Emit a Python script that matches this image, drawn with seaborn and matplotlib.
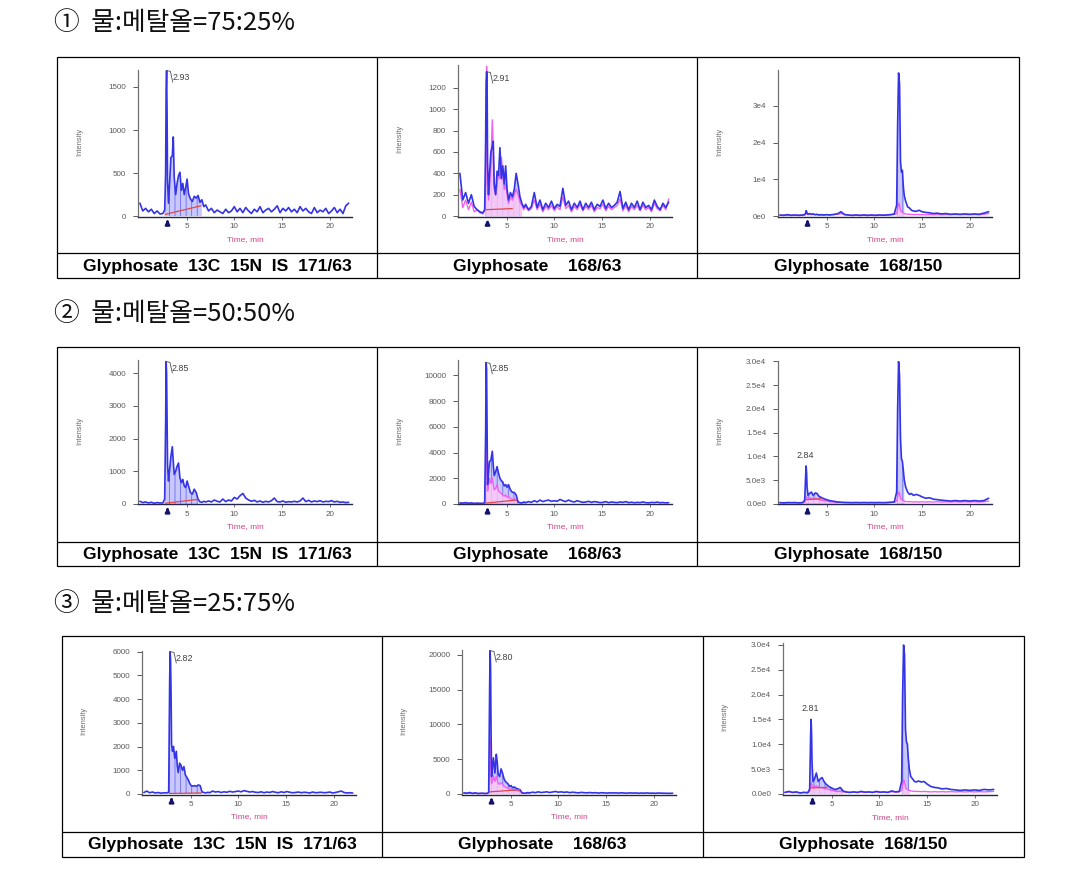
import matplotlib
matplotlib.use("Agg")
import matplotlib.pyplot as plt
import seaborn as sns
from matplotlib.patches import Rectangle

# ------------------------------------------------------------------ data
HEADERS = ["①  물:메탈올=75:25%", "②  물:메탈올=50:50%", "③  물:메탈올=25:75%"]
CAPTIONS = ["Glyphosate  13C  15N  IS  171/63", "Glyphosate    168/63", "Glyphosate  168/150"]
X_TICKS = [5, 10, 15, 20]

T_A = [0.1, 0.4, 0.7, 1.0, 1.3, 1.6, 1.9, 2.2, 2.5,
       2.7, 2.8, 2.85, 2.9, 2.95, 3.0,
       3.1, 3.2, 3.35, 3.5, 3.6, 3.7, 3.85, 4.0, 4.15, 4.3, 4.45, 4.6, 4.75, 4.9, 5.05, 5.2,
       5.4, 5.6, 5.8, 6.0, 6.2, 6.4, 6.6, 6.8, 7.0,
       7.3, 7.6, 7.9, 8.2, 8.5, 8.8, 9.1, 9.4, 9.7, 10.0,
       10.3, 10.6, 10.9, 11.2, 11.5, 11.8, 12.1, 12.4, 12.7, 13.0,
       13.3, 13.6, 13.9, 14.2, 14.5, 14.8, 15.1, 15.4, 15.7, 16.0,
       16.3, 16.6, 16.9, 17.2, 17.5, 17.8, 18.1, 18.4, 18.7, 19.0,
       19.3, 19.6, 19.9, 20.2, 20.5, 20.8, 21.1, 21.4, 21.7, 22.0]

T_B = [0.1, 0.5, 0.9, 1.3, 1.7, 2.1, 2.5,
       2.7, 2.8, 2.85, 2.9, 2.95, 3.05,
       3.2, 3.4, 3.6, 3.8, 4.0, 4.2, 4.4, 4.7, 5.0, 5.3, 5.6, 5.9, 6.2, 6.5,
       6.9, 7.3, 7.7, 8.1, 8.5, 8.9, 9.3, 9.7, 10.1, 10.5, 10.9, 11.3, 11.7, 12.1,
       12.35, 12.45, 12.55, 12.65, 12.75, 12.85, 12.95, 13.05, 13.15,
       13.3, 13.5, 13.7, 13.9, 14.1, 14.4, 14.7, 15.0, 15.4, 15.8, 16.2, 16.6, 17.0,
       17.5, 18.0, 18.5, 19.0, 19.5, 20.0, 20.5, 21.0, 21.5, 22.0]

# row 1 (75:25)
BLUE_11 = [150, 60, 90, 50, 80, 30, 60, 25, 30,
           70, 500, 1450, 1690, 1200, 400,
           150, 350, 680, 700, 920, 450, 250, 380, 470, 510, 300, 380, 250, 330, 430, 260,
           200, 170, 230, 210, 240, 160, 190, 110, 130,
           60, 90, 40, 70, 50, 30, 80, 40, 60, 110,
           50, 90, 40, 100, 60, 30, 80, 50, 110, 40,
           70, 90, 50, 80, 120, 40, 90, 60, 100, 50,
           80, 40, 110, 60, 90, 50, 30, 100, 40, 70,
           50, 90, 30, 60, 100, 40, 80, 30, 120, 150]
BLUE_12 = [400, 150, 220, 120, 200, 90, 60, 40, 30,
           60, 700, 1250, 1350, 1300, 500,
           200, 380, 600, 650, 700, 300, 200, 420, 380, 640, 350, 470, 300, 470, 250, 150,
           220, 180, 250, 400, 300, 180, 120, 80, 110,
           60, 90, 220, 80, 150, 60, 120, 80, 140, 70,
           110, 90, 260, 100, 140, 60, 120, 80, 140, 60,
           120, 80, 130, 60, 110, 90, 150, 70, 120, 80,
           100, 130, 230, 70, 130, 60, 120, 80, 140, 60,
           130, 80, 100, 60, 150, 90, 60, 120, 80, 130]
PINK_12 = [250, 80, 150, 60, 130, 40, 60, 30, 20,
           50, 300, 800, 1400, 1000, 300,
           150, 250, 500, 900, 600, 250, 200, 300, 400, 350, 550, 400, 250, 300, 200, 120,
           180, 150, 200, 250, 200, 130, 100, 60, 90,
           50, 70, 150, 60, 110, 40, 90, 60, 100, 50,
           90, 60, 180, 70, 100, 40, 90, 60, 110, 50,
           90, 60, 100, 40, 80, 70, 110, 50, 90, 60,
           80, 100, 160, 50, 100, 40, 90, 60, 100, 50,
           100, 60, 80, 40, 120, 70, 50, 100, 60, 160]
BLUE_13 = [300, 200, 400, 200, 300, 200, 300,
           400, 800, 1500, 1200, 800, 500,
           700, 500, 600, 400, 500, 300, 400, 300, 400, 300, 400, 500, 700, 1200,
           400, 300, 200, 300, 200, 300, 200, 300, 200, 300, 250, 300, 400, 600,
           3000, 25000, 39000, 36000, 15000, 12000, 12500, 8000, 5500,
           4000, 2500, 2200, 1600, 1400, 1300, 1600, 1200, 1000, 900, 700, 800, 600,
           700, 500, 600, 500, 600, 500, 600, 500, 800, 1200]
PINK_13 = [200, 300, 200, 300, 200, 300, 200,
           300, 600, 900, 700, 500, 400,
           500, 400, 450, 350, 400, 300, 350, 300, 400, 350, 400, 450, 500, 700,
           400, 300, 250, 300, 250, 300, 250, 300, 250, 300, 250, 300, 350, 400,
           700, 2000, 3500, 3000, 1500, 1200, 1100, 900, 700,
           600, 500, 500, 450, 400, 450, 400, 400, 350, 400, 350, 400, 350,
           400, 350, 400, 350, 400, 350, 400, 350, 500, 700]

# row 2 (50:50)
BLUE_21 = [80, 40, 60, 30, 50, 20, 40, 30, 30,
           150, 2500, 4350, 4000, 2600, 1200,
           700, 1000, 1450, 1750, 1300, 900, 1000, 1150, 1250, 800, 650, 750, 550, 500, 700, 550,
           350, 300, 450, 350, 150, 60, 50, 80, 60,
           90, 60, 120, 80, 60, 150, 70, 120, 90, 200,
           150, 250, 320, 180, 120, 80, 110, 60, 90, 50,
           80, 60, 100, 180, 70, 60, 90, 50, 70, 60,
           80, 60, 90, 180, 70, 110, 60, 90, 70, 100,
           60, 80, 70, 100, 60, 80, 50, 60, 40, 50]
BLUE_22 = [80, 60, 100, 50, 80, 40, 60, 50, 40,
           100, 5600, 11000, 10500, 6000, 1500,
           2500, 3300, 3400, 4100, 3000, 2200, 2500, 2900, 2400, 2000, 1800, 1700, 1400, 1500, 1300, 1500,
           1100, 900, 900, 700, 150, 100, 80, 150, 100,
           180, 120, 250, 150, 300, 180, 250, 300, 200, 250,
           200, 350, 250, 180, 300, 200, 150, 250, 180, 120,
           150, 200, 120, 180, 150, 100, 120, 180, 100, 150,
           120, 100, 150, 120, 180, 100, 130, 90, 120, 100,
           150, 100, 80, 120, 100, 140, 90, 110, 80, 100]
PINK_22 = [60, 40, 70, 30, 50, 30, 40, 30, 30,
           80, 2500, 5800, 4500, 3000, 1000,
           1500, 2000, 1600, 2000, 1500, 1100, 1200, 1500, 1000, 900, 800, 700, 600, 700, 500, 600,
           400, 350, 400, 300, 100, 80, 60, 100, 80]
BLUE_23 = [300, 200, 300, 250, 300, 200, 300,
           800, 6000, 8000, 6500, 3500, 1800,
           2200, 2500, 1800, 2300, 2200, 1600, 1400, 1100, 900, 700, 600, 500, 400, 350,
           300, 300, 250, 300, 250, 300, 250, 300, 250, 300, 250, 300, 350, 400,
           2500, 20000, 30000, 27000, 14000, 9500, 9000, 7000, 5000,
           3500, 2500, 2000, 2200, 1800, 2000, 1800, 1500, 1200, 1300, 1000, 900, 800,
           700, 600, 700, 600, 700, 600, 700, 600, 700, 1200]
PINK_23 = [200, 300, 200, 300, 200, 300, 200,
           400, 1200, 1500, 1400, 1300, 1200,
           1300, 1100, 1000, 1200, 1000, 900, 800, 700, 600, 500, 450, 400, 350, 300,
           300, 250, 300, 250, 300, 250, 300, 250, 300, 250, 300, 250, 300, 350,
           600, 1500, 2500, 2200, 1200, 900, 800, 700, 600,
           500, 450, 500, 450, 400, 450, 400, 450, 400, 450, 400, 450, 400,
           450, 400, 450, 400, 450, 400, 450, 400, 450, 600]

# row 3 (25:75)
BLUE_31 = [60, 120, 50, 80, 40, 60, 30, 50, 40,
           80, 4700, 6000, 5600, 4200, 2100,
           1800, 2000, 1500, 1800, 1200, 900, 1300, 1200, 1000, 1150, 800, 700, 600, 450, 350, 330,
           350, 320, 380, 350, 80, 60, 40, 70, 50,
           120, 80, 100, 60, 90, 70, 110, 80, 100, 120,
           90, 140, 110, 80, 100, 70, 60, 90, 50, 80,
           60, 100, 70, 50, 90, 60, 100, 70, 50, 60,
           80, 50, 70, 60, 40, 80, 50, 60, 70, 50,
           60, 80, 40, 60, 90, 120, 60, 40, 50, 40]
BLUE_32 = [150, 100, 200, 80, 150, 60, 100, 80, 60,
           200, 15500, 20600, 18000, 9000, 2500,
           4000, 5200, 3000, 5700, 4500, 2800, 2500, 3600, 3000, 2200, 1800, 1600, 1400, 1100, 1200, 900,
           1000, 800, 700, 600, 150, 100, 120, 200, 150,
           250, 180, 300, 200, 250, 300, 200, 280, 350, 250,
           300, 220, 280, 180, 250, 200, 150, 220, 180, 150,
           200, 150, 180, 120, 170, 150, 120, 160, 130, 150,
           120, 160, 130, 110, 150, 120, 140, 100, 130, 110,
           140, 100, 120, 90, 130, 110, 100, 90, 80, 100]
PINK_32 = [100, 80, 120, 60, 100, 50, 80, 60, 50,
           150, 4500, 8000, 5500, 3000, 1500,
           2000, 2600, 1800, 2500, 2000, 1500, 1400, 1600, 1400, 1100, 1000, 900, 800, 700, 700, 600,
           600, 500, 450, 400, 100, 80, 80, 120, 100]
BLUE_33 = [300, 500, 300, 400, 200, 300, 250,
           1000, 12000, 15000, 12000, 6000, 2500,
           3000, 4200, 2500, 3000, 3300, 2500, 2000, 1500, 1200, 900, 1000, 1300, 600, 400,
           300, 400, 300, 500, 350, 400, 300, 500, 350, 400, 300, 600, 400, 500,
           2500, 20000, 30000, 28000, 13000, 10500, 10000, 7000, 5000,
           3500, 3000, 2500, 2400, 2600, 2400, 2500, 2000, 1500, 1300, 1200, 1000, 1100,
           900, 800, 700, 800, 700, 800, 700, 900, 800, 900]
PINK_33 = [300, 400, 300, 300, 200, 300, 200,
           500, 1800, 2200, 2000, 1600, 1400,
           1500, 1600, 1400, 1300, 1300, 1100, 1000, 900, 700, 600, 500, 500, 400, 350,
           300, 350, 300, 400, 300, 350, 300, 400, 300, 350, 300, 450, 350, 400,
           700, 1800, 2800, 2500, 1400, 1000, 900, 800, 700,
           600, 550, 500, 500, 500, 450, 500, 450, 400, 450, 400, 450, 400,
           450, 400, 450, 400, 450, 400, 450, 400, 450, 500]

# y axis tick values / labels
YT_11 = [0, 500, 1000, 1500]
YT_12 = [0, 200, 400, 600, 800, 1000, 1200]
YT_13 = [0, 10000, 20000, 30000]
YL_13 = ["0e0", "1e4", "2e4", "3e4"]
YT_21 = [0, 1000, 2000, 3000, 4000]
YT_22 = [0, 2000, 4000, 6000, 8000, 10000]
YT_E = [0, 5000, 10000, 15000, 20000, 25000, 30000]
YL_E = ["0.0e0", "5.0e3", "1.0e4", "1.5e4", "2.0e4", "2.5e4", "3.0e4"]
YT_31 = [0, 1000, 2000, 3000, 4000, 5000, 6000]
YT_32 = [0, 5000, 10000, 15000, 20000]

# peak labels (retention time text, peak position)
PEAKS = {
    (0, 0): ("2.93", 2.9, 1690, "right"), (0, 1): ("2.91", 2.9, 1350, "right"), (0, 2): None,
    (1, 0): ("2.85", 2.85, 4350, "right"), (1, 1): ("2.85", 2.85, 11000, "right"),
    (1, 2): ("2.84", 2.85, 8000, "above"),
    (2, 0): ("2.82", 2.85, 6000, "right"), (2, 1): ("2.80", 2.85, 20600, "right"),
    (2, 2): ("2.81", 2.85, 15000, "above"),
}
# integration baselines (two end points each)
BASELINES = {
    (0, 0): ([2.75, 6.5], [20, 120]), (0, 1): ([2.8, 5.6], [60, 70]),
    (1, 0): ([2.75, 6.2], [20, 140]), (1, 1): ([2.75, 6.0], [60, 300]),
    (1, 2): ([2.8, 4.5], [900, 1100]),
    (2, 0): ([2.75, 6.1], [20, 40]), (2, 1): ([2.8, 6.0], [300, 600]),
    (2, 2): ([2.8, 4.5], [1200, 1300]),
}
WINDOWS = {
    (0, 0): [(2.7, 6.6)], (0, 1): [(2.7, 6.6)], (0, 2): [(12.35, 13.15)],
    (1, 0): [(2.7, 6.2)], (1, 1): [(2.7, 6.2)], (1, 2): [(2.7, 6.2), (12.35, 13.15)],
    (2, 0): [(2.7, 6.2)], (2, 1): [(2.7, 6.2)], (2, 2): [(2.7, 6.2), (12.35, 13.15)],
}
ARROW_T = 3.0

PANELS = {
    (0, 0): (T_A, BLUE_11, None, 1697, YT_11, None),
    (0, 1): (T_A, BLUE_12, PINK_12, 1413, YT_12, None),
    (0, 2): (T_B, BLUE_13, PINK_13, 39800, YT_13, YL_13),
    (1, 0): (T_A, BLUE_21, None, 4400, YT_21, None),
    (1, 1): (T_A, BLUE_22, PINK_22, 11200, YT_22, None),
    (1, 2): (T_B, BLUE_23, PINK_23, 30100, YT_E, YL_E),
    (2, 0): (T_A, BLUE_31, None, 6030, YT_31, None),
    (2, 1): (T_A, BLUE_32, PINK_32, 20700, YT_32, None),
    (2, 2): (T_B, BLUE_33, PINK_33, 30400, YT_E, YL_E),
}

# ------------------------------------------------------------------ layout (pixels)
W, H = 1077, 869
ROWS = [  # table top, separator, bottom, column edges
    (57, 253, 278, [57, 377, 697, 1019]),
    (347, 542, 566, [57, 377, 697, 1019]),
    (636, 832, 857, [62, 382, 703, 1024]),
]
HEADER_Y = [23, 314, 604]
AX_TOP = {(0, 0): 70, (0, 1): 65, (0, 2): 70, (1, 0): 360, (1, 1): 360, (1, 2): 361,
          (2, 0): 651, (2, 1): 650, (2, 2): 643}
AX_BOTTOM = [216.7, 504.5, 794.5]
AX_OFF = [81, 81, 80]
AX_W = 214

BLUE = "#3434e6"
PINK = "#f060f0"
NAVY = "#14146e"
TICK_C = "#5a5a5a"

sns.set_theme(style="white")
plt.rcParams["font.family"] = ["Liberation Sans", "DejaVu Sans"]
plt.rcParams["hatch.linewidth"] = 0.6

fig = plt.figure(figsize=(W / 100, H / 100), dpi=100)
bg = fig.add_axes([0, 0, 1, 1], zorder=0)
bg.set_xlim(0, W)
bg.set_ylim(H, 0)
bg.axis("off")

LW = 0.9
for r, (top, mid, bot, cols) in enumerate(ROWS):
    bg.add_patch(Rectangle((cols[0], top), cols[-1] - cols[0], bot - top,
                           fill=False, ec="black", lw=LW))
    bg.plot([cols[0], cols[-1]], [mid, mid], color="black", lw=LW)
    for c in cols[1:-1]:
        bg.plot([c, c], [top, bot], color="black", lw=LW)
    for c in range(3):
        bg.text((cols[c] + cols[c + 1]) / 2, (mid + bot) / 2 + 0.5, CAPTIONS[c],
                ha="center", va="center", fontsize=12.6, fontweight="bold", color="black",
                family=["Liberation Sans", "DejaVu Sans"])
    bg.text(54, HEADER_Y[r], HEADERS[r], ha="left", va="center", fontsize=18.5,
            color="#111111", family=["Noto Sans CJK KR", "DejaVu Sans"])


def px_axes(left, top, right, bottom):
    return fig.add_axes([left / W, 1 - bottom / H, (right - left) / W, (bottom - top) / H], zorder=2)


for (r, c), (T, blue, pink, ytop, yt, yl) in PANELS.items():
    cols = ROWS[r][3]
    left = cols[c] + AX_OFF[r]
    ax = px_axes(left, AX_TOP[(r, c)], left + AX_W, AX_BOTTOM[r])
    ax.set_facecolor("none")

    # integration fills
    for (w0, w1) in WINDOWS[(r, c)]:
        tt = [t for t in T if w0 <= t <= w1]
        yy = [v for t, v in zip(T, blue) if w0 <= t <= w1]
        ax.fill_between(tt, 0, yy, facecolor="#c8c8ff", edgecolor="#6c6cec",
                        hatch="|||", linewidth=0, zorder=1)
        if pink is not None:
            yp = [v for t, v in zip(T, pink) if w0 <= t <= w1]
            if len(yp) == len(tt):
                ax.fill_between(tt, 0, yp, facecolor="#ffc8f6", linewidth=0, alpha=0.8, zorder=1.5)

    if pink is not None:
        sns.lineplot(x=T[:len(pink)], y=pink, ax=ax, color=PINK, linewidth=1.0,
                     estimator=None, sort=False, zorder=2)
    sns.lineplot(x=T, y=blue, ax=ax, color=BLUE, linewidth=1.2,
                 estimator=None, sort=False, zorder=3)

    if (r, c) in BASELINES:
        bx, by = BASELINES[(r, c)]
        sns.lineplot(x=bx, y=by, ax=ax, color="#e04848", linewidth=0.9,
                     estimator=None, sort=False, zorder=4)

    ax.set_xlim(-0.1, 22.35)
    ax.set_ylim(-0.004 * ytop, ytop)
    ax.set_xticks(X_TICKS)
    ax.set_xticklabels([str(v) for v in X_TICKS])
    ax.set_yticks(yt)
    ax.set_yticklabels(yl if yl is not None else [str(v) for v in yt])
    ax.tick_params(axis="y", labelsize=5.8, colors=TICK_C, length=3.5, width=0.7, pad=5,
                   left=True)
    ax.tick_params(axis="x", labelsize=5.8, colors=TICK_C, length=2, width=0.6, pad=2.5,
                   bottom=True)
    for s in ("top", "right"):
        ax.spines[s].set_visible(False)
    ax.spines["left"].set_color("#707070")
    ax.spines["left"].set_linewidth(0.9)
    ax.spines["bottom"].set_color("#26264a")
    ax.spines["bottom"].set_linewidth(1.0)

    ax.set_ylabel("Intensity", fontsize=5.4, color="#6a6a6a")
    ax.yaxis.set_label_coords(-0.255, 0.51)
    ax.set_xlabel("Time, min", fontsize=6, color="#d0458a")
    ax.xaxis.set_label_coords(0.5, -0.13)

    # retention-time arrow
    ax.annotate("", xy=(ARROW_T, 0.0), xycoords=("data", "axes fraction"),
                xytext=(ARROW_T, -0.06), textcoords=("data", "axes fraction"),
                arrowprops=dict(arrowstyle="-|>", color=NAVY, lw=1.8, mutation_scale=6),
                annotation_clip=False)

    pk = PEAKS[(r, c)]
    if pk is not None:
        lab, tp, yp, style = pk
        if style == "right":
            ax.plot([tp, tp + 0.4, tp + 0.65], [yp, yp * 0.995, yp * 0.92],
                    color="#505050", lw=0.6, zorder=5)
            ax.text(tp + 0.6, yp * 0.955, lab, fontsize=6.4, color="#404040",
                    ha="left", va="center", zorder=5)
        else:
            ax.text(tp - 0.05, yp + 0.04 * ytop, lab, fontsize=6.4, color="#404040",
                    ha="center", va="bottom", zorder=5)

fig.savefig("out.png", dpi=100)
